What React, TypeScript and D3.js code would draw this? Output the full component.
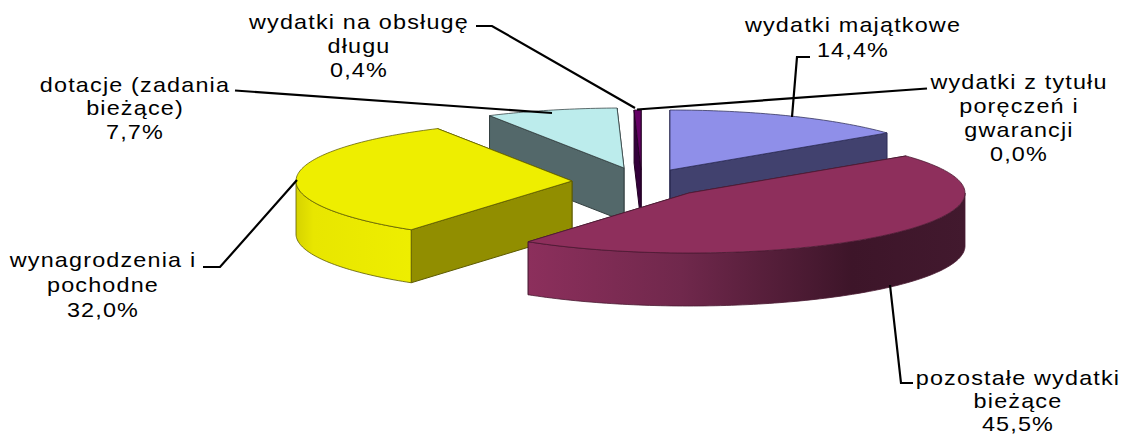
import React from "react";
import * as d3 from "d3";

const categories = [
  "wydatki majątkowe",
  "wydatki z tytułu poręczeń i gwarancji",
  "pozostałe wydatki bieżące",
  "wynagrodzenia i pochodne",
  "dotacje (zadania bieżące)",
  "wydatki na obsługę długu",
];
const shares = [14.4, 0.0, 45.5, 32.0, 7.7, 0.4];
const topColors = ["#8f8fe9", "#8f8fe9", "#8e2f5c", "#eeee00", "#bcecec", "#660066"];
const cutColors = ["#41416e", "#41416e", "#5a1e3a", "#918e00", "#53686a", "#33003a"];
const edgeColors = ["#2c2c55", "#2c2c55", "#4a1a32", "#5c5a00", "#333f40", "#220022"];

// Layout only: where each exploded slice's apex sits.
const apexes: [number, number][] = [[670, 170], [670, 170], [689, 193], [572, 181], [624, 168], [641, 170]];
const RX = 276, RY = 60, DEPTH = 53;

const labelLines = [
  { lines: ["wydatki majątkowe", "14,4%"], x: 853, ys: [32, 57] },
  { lines: ["wydatki z tytułu", "poręczeń i", "gwarancji", "0,0%"], x: 1019, ys: [89, 113, 137, 161] },
  { lines: ["pozostałe wydatki", "bieżące", "45,5%"], x: 1018, ys: [385, 408, 431] },
  { lines: ["wynagrodzenia i", "pochodne", "32,0%"], x: 103, ys: [267, 292, 317] },
  { lines: ["dotacje (zadania", "bieżące)", "7,7%"], x: 135, ys: [92, 115, 139] },
  { lines: ["wydatki na obsługę", "długu", "0,4%"], x: 359, ys: [29, 53, 77] },
];
const leaders: [number, number][][] = [
  [[810, 57], [797, 57], [792, 117]],
  [[927, 88.5], [637, 109.5]],
  [[913, 383], [901, 383], [890, 285]],
  [[203, 267], [220, 267], [297, 180]],
  [[235, 90.5], [552, 113]],
  [[476, 26], [492, 26], [635, 108]],
];

const pieLayout = d3.pie<number>().sort(null).value((d) => d)(shares);
const line = d3.line<[number, number]>();
const sx = d3.scaleLinear().domain([-1, 1]).range([-RX, RX]);
const sy = d3.scaleLinear().domain([-1, 1]).range([-RY, RY]);

const rim = (a0: number, a1: number, c: [number, number], dy = 0): [number, number][] => {
  const n = Math.max(2, Math.ceil(Math.abs(a1 - a0) / 0.02));
  return d3.range(n + 1).map((i) => {
    const a = a0 + ((a1 - a0) * i) / n;
    return [c[0] + sx(Math.sin(a)), c[1] + sy(-Math.cos(a)) + dy] as [number, number];
  });
};

export default function App() {
  const order = [0, 5, 4, 3, 2];
  return (
    <svg width={1123} height={435} style={{ position: "absolute", left: 0, top: 0, background: "#fff" }}>
      <defs>
        <linearGradient id="wall2" gradientUnits="userSpaceOnUse" x1={528} x2={966} y1={0} y2={0}>
          <stop offset="0" stopColor="#8c2f5c" />
          <stop offset="0.35" stopColor="#70284c" />
          <stop offset="0.74" stopColor="#3d1529" />
          <stop offset="1" stopColor="#42192e" />
        </linearGradient>
        <linearGradient id="wall3" gradientUnits="userSpaceOnUse" x1={296} x2={412} y1={0} y2={0}>
          <stop offset="0" stopColor="#d6d300" />
          <stop offset="0.15" stopColor="#e8e600" />
          <stop offset="1" stopColor="#eeee00" />
        </linearGradient>
      </defs>
      {order.map((i) => {
        const s = pieLayout[i];
        const c = apexes[i];
        const a0 = s.startAngle, a1 = s.endAngle;
        const top = rim(a0, a1, c);
        const p0 = top[0], p1 = top[top.length - 1];
        const cut = (p: [number, number]) =>
          line([c, p, [p[0], p[1] + DEPTH], [c[0], c[1] + DEPTH]])! + "Z";
        const w0 = Math.max(a0, Math.PI / 2), w1 = Math.min(a1, (3 * Math.PI) / 2);
        const hasWall = w1 > w0;
        const wallPts = hasWall
          ? [...rim(w0, w1, c), ...rim(w0, w1, c, DEPTH).reverse()]
          : [];
        return (
          <g key={categories[i]} strokeWidth={1} strokeLinejoin="round">
            <path d={cut(p1)} fill={cutColors[i]} stroke={edgeColors[i]} />
            <path d={cut(p0)} fill={cutColors[i]} stroke={edgeColors[i]} />
            {hasWall && (
              <path d={line(wallPts)! + "Z"} fill={`url(#wall${i})`} stroke={edgeColors[i]} strokeOpacity={0.8} />
            )}
            <path d={line([c, ...top])! + "Z"} fill={topColors[i]} stroke={edgeColors[i]} strokeOpacity={0.75} />
          </g>
        );
      })}
      <g fill="none" stroke="#000" strokeWidth={2.2}>
        {leaders.map((l, i) => <path key={i} d={line(l)!} />)}
      </g>
      <g fontFamily="'Liberation Sans', Arial, sans-serif" fontSize={20} letterSpacing={1} textAnchor="middle" fill="#000">
        {labelLines.map((l, i) =>
          l.lines.map((t, j) => (
            <text key={`${i}-${j}`} transform={`translate(${l.x},${l.ys[j]}) scale(1.17,1)`}>{t}</text>
          ))
        )}
      </g>
    </svg>
  );
}
